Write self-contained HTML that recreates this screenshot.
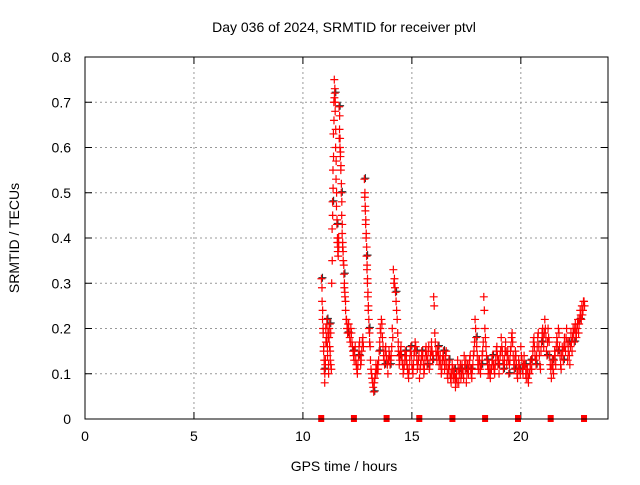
<!DOCTYPE html>
<html><head><meta charset="utf-8">
<style>
body{margin:0;background:#fff;font-family:"Liberation Sans",sans-serif;}
svg text{font-family:"Liberation Sans",sans-serif;font-size:14px;fill:#000;}
</style></head>
<body>
<svg id="chart" width="640" height="480" viewBox="0 0 640 480" xmlns="http://www.w3.org/2000/svg">
<rect width="640" height="480" fill="#fff"/>
<text x="344" y="32" text-anchor="middle">Day 036 of 2024, SRMTID for receiver ptvl</text>
<text x="344" y="471" text-anchor="middle">GPS time / hours</text>
<text transform="translate(19,238) rotate(-90)" text-anchor="middle">SRMTID / TECUs</text>
<g id="grid"></g><g id="ticks"></g><g id="marks"></g>
<rect x="85" y="57" width="523" height="362" fill="none" stroke="#000" stroke-width="1"/>
</svg>
<script>
const xTicks=[0,5,10,15,20];
const yTicks=[0,0.1,0.2,0.3,0.4,0.5,0.6,0.7,0.8];
const yTickLabels=["0","0.1","0.2","0.3","0.4","0.5","0.6","0.7","0.8"];
const gapMarkers=[10.84,12.34,13.84,15.34,16.86,18.36,19.87,21.37,22.9];
const times=[10.85,10.88,10.9,10.93,10.95,10.98,11.0,11.03,11.05,11.08,11.1,11.13,11.15,11.18,11.2,11.23,11.25,11.28,
11.32,11.34,11.36,11.38,11.4,11.42,11.44,11.46,11.48,11.5,11.52,11.54,11.56,11.58,11.6,
11.62,11.64,11.66,11.68,11.7,11.72,11.74,11.76,11.78,11.8,11.82,11.85,11.88,11.9,11.93,11.96,
12.0,12.05,12.1,12.15,12.2,12.25,12.3,12.35,12.4,12.45,12.5,12.55,12.6,12.65,12.7,12.75,
12.82,12.84,12.86,12.88,12.9,12.92,12.94,12.96,12.98,13.0,13.03,13.06,
13.1,13.15,13.2,13.25,13.3,13.35,13.4,13.45,13.5,13.55,13.6,13.65,13.7,13.75,13.8,13.85,13.9,13.95,
14.0,14.05,14.1,14.15,14.2,14.25,14.3,14.35,14.38,14.42,14.45,14.5,14.55,14.6,14.65,14.7,14.75,14.8,14.85,14.9,14.95,
15.0,15.05,15.1,15.15,15.2,15.25,15.3,15.35,15.4,15.45,15.5,15.55,15.6,15.65,15.7,15.75,15.8,15.85,15.9,15.95,
16.0,16.05,16.1,16.15,16.2,16.25,16.3,16.35,16.4,16.45,16.5,16.55,16.6,16.65,16.7,16.75,16.8,16.85,16.9,16.95,
17.0,17.05,17.1,17.15,17.2,17.25,17.3,17.35,17.4,17.45,17.5,17.55,17.6,17.65,17.7,17.75,17.8,17.85,17.9,17.95,
18.0,18.05,18.1,18.15,18.2,18.25,18.3,18.35,18.4,18.45,18.5,18.55,18.6,18.65,18.7,18.75,18.8,18.85,18.9,18.95,
19.0,19.05,19.1,19.15,19.2,19.25,19.3,19.35,19.4,19.45,19.5,19.55,19.6,19.65,19.7,19.75,19.8,19.85,19.9,19.95,
20.0,20.05,20.1,20.15,20.2,20.25,20.3,20.35,20.4,20.45,20.5,20.55,20.6,20.65,20.7,20.75,20.8,20.85,20.9,20.95,
21.0,21.05,21.1,21.15,21.2,21.25,21.3,21.35,21.4,21.45,21.5,21.55,21.6,21.65,21.7,21.75,21.8,21.85,21.9,21.95,
22.0,22.05,22.1,22.15,22.2,22.25,22.3,22.35,22.4,22.45,22.5,22.55,22.6,22.65,22.7,22.75,22.8,22.85,22.9];
const values=[0.31,0.26,0.22,0.19,0.15,0.11,0.08,0.13,0.2,0.17,0.22,0.14,0.19,0.1,0.18,0.21,0.15,0.12,
0.3,0.42,0.48,0.55,0.63,0.7,0.75,0.72,0.68,0.6,0.53,0.47,0.43,0.39,0.37,
0.36,0.4,0.69,0.64,0.6,0.58,0.55,0.5,0.45,0.41,0.38,0.35,0.32,0.29,0.27,0.24,
0.22,0.19,0.21,0.18,0.2,0.17,0.15,0.13,0.16,0.12,0.1,0.14,0.17,0.12,0.15,0.18,
0.53,0.49,0.47,0.43,0.4,0.36,0.33,0.3,0.27,0.24,0.2,0.17,
0.13,0.1,0.08,0.06,0.09,0.12,0.1,0.11,0.15,0.2,0.22,0.18,0.14,0.12,0.16,0.13,0.1,0.15,
0.12,0.14,0.2,0.33,0.31,0.28,0.24,0.19,0.15,0.12,0.14,0.16,0.13,0.1,0.12,0.15,0.14,0.11,0.09,0.13,0.16,
0.12,0.1,0.14,0.17,0.15,0.11,0.13,0.09,0.12,0.15,0.14,0.1,0.13,0.16,0.12,0.15,0.11,0.14,0.17,0.13,
0.27,0.19,0.15,0.13,0.16,0.12,0.14,0.1,0.13,0.15,0.11,0.14,0.12,0.09,0.13,0.1,0.08,0.12,0.09,0.11,
0.07,0.1,0.13,0.08,0.11,0.09,0.12,0.1,0.14,0.11,0.08,0.12,0.1,0.13,0.11,0.09,0.12,0.15,0.22,0.18,
0.14,0.11,0.13,0.1,0.12,0.15,0.27,0.2,0.16,0.13,0.1,0.12,0.09,0.11,0.14,0.12,0.1,0.13,0.16,0.12,
0.1,0.14,0.18,0.15,0.11,0.13,0.17,0.12,0.15,0.1,0.13,0.16,0.19,0.14,0.11,0.15,0.12,0.09,0.13,0.11,
0.16,0.13,0.1,0.14,0.12,0.09,0.11,0.08,0.1,0.13,0.11,0.15,0.18,0.14,0.12,0.16,0.19,0.14,0.11,0.17,
0.2,0.16,0.22,0.18,0.14,0.2,0.17,0.12,0.09,0.13,0.1,0.15,0.12,0.18,0.15,0.19,0.14,0.11,0.16,0.13,
0.18,0.15,0.2,0.13,0.17,0.12,0.19,0.15,0.2,0.17,0.21,0.18,0.21,0.19,0.22,0.23,0.25,0.24,0.26];
const values2=[0.29,0.24,0.2,0.16,0.13,0.1,0.12,0.17,0.18,0.21,0.16,0.18,0.12,0.2,0.16,0.13,0.19,0.11,
0.35,0.45,0.51,0.58,0.66,0.71,0.73,0.7,0.64,0.57,0.5,0.44,0.4,0.38,0.39,
0.38,0.62,0.67,0.62,0.59,0.56,0.52,0.48,0.43,0.39,0.37,0.34,0.3,0.28,0.26,0.22,
0.2,0.21,0.19,0.17,0.19,0.16,0.14,0.15,0.13,0.11,0.12,0.16,0.14,0.13,0.17,0.16,
0.5,0.46,0.44,0.41,0.38,0.34,0.31,0.28,0.25,0.22,0.19,0.16,
0.11,0.09,0.07,0.08,0.1,0.11,0.12,0.13,0.17,0.19,0.21,0.16,0.13,0.15,0.14,0.12,0.13,0.14,
0.13,0.16,0.18,0.3,0.29,0.26,0.22,0.17,0.14,0.13,0.15,0.14,0.12,0.11,0.14,0.13,0.12,0.1,0.11,0.15,0.14,
0.11,0.12,0.15,0.16,0.13,0.12,0.14,0.11,0.13,0.14,0.12,0.11,0.15,0.14,0.13,0.16,0.12,0.15,0.15,0.14,
0.25,0.17,0.14,0.15,0.14,0.13,0.12,0.11,0.14,0.13,0.12,0.15,0.1,0.11,0.12,0.09,0.1,0.11,0.1,0.09,
0.09,0.08,0.11,0.1,0.12,0.1,0.11,0.09,0.12,0.13,0.1,0.11,0.12,0.14,0.1,0.11,0.14,0.17,0.2,0.16,
0.12,0.13,0.11,0.12,0.14,0.17,0.24,0.18,0.14,0.12,0.11,0.1,0.11,0.13,0.12,0.11,0.12,0.15,0.14,0.13,
0.12,0.15,0.16,0.13,0.12,0.15,0.15,0.14,0.13,0.12,0.15,0.18,0.17,0.12,0.13,0.14,0.1,0.11,0.12,0.1,
0.14,0.11,0.12,0.12,0.1,0.11,0.09,0.1,0.12,0.11,0.13,0.17,0.16,0.13,0.14,0.18,0.16,0.12,0.15,0.19,
0.18,0.19,0.2,0.15,0.17,0.18,0.14,0.11,0.12,0.11,0.13,0.14,0.16,0.17,0.2,0.16,0.12,0.14,0.15,0.16,
0.16,0.18,0.17,0.15,0.14,0.16,0.17,0.18,0.19,0.2,0.19,0.2,0.22,0.21,0.24,0.22,0.23,0.26,0.25];
const X=h=>85+h*523/24;
const Y=v=>419-v*362/0.8;
const ns="http://www.w3.org/2000/svg";
const grid=document.getElementById('grid'),ticks=document.getElementById('ticks'),marks=document.getElementById('marks');
function mk(tag,attrs,parent){const e=document.createElementNS(ns,tag);for(const k in attrs)e.setAttribute(k,attrs[k]);parent.appendChild(e);return e;}
xTicks.forEach(t=>{
  const x=X(t);
  if(t>0){const g=mk('line',{x1:x,x2:x,y1:57,y2:419,stroke:'#999','stroke-dasharray':'2,3'},grid);
  
  }
  mk('line',{x1:x,x2:x,y1:419,y2:412,stroke:'#000'},ticks);
  mk('line',{x1:x,x2:x,y1:57,y2:64,stroke:'#000'},ticks);
  const l=mk('text',{x:x,y:441,'text-anchor':'middle'},ticks);l.textContent=t;
  
  
});
yTicks.forEach((t,i)=>{
  const y=Y(t);
  if(t>0&&t<0.8){const g=mk('line',{x1:85,x2:608,y1:y,y2:y,stroke:'#999','stroke-dasharray':'2,3'},grid);
  
  }
  mk('line',{x1:85,x2:92,y1:y,y2:y,stroke:'#000'},ticks);
  mk('line',{x1:608,x2:601,y1:y,y2:y,stroke:'#000'},ticks);
  const l=mk('text',{x:71,y:y+5,'text-anchor':'end'},ticks);l.textContent=yTickLabels[i];
  
  
});
function cross(x,y,col,nm){
  const p=mk('path',{d:`M${x-4},${y}H${x+4}M${x},${y-4}V${y+4}`,stroke:col,'stroke-width':1.2,fill:'none'},marks);
  
  
}
times.forEach((t,i)=>{ if(i%5===0) cross(X(t)+1,Y(values[i])-1,'#333','srmtid-point-black'); });
times.forEach((t,i)=>{ cross(X(t+0.025),Y(values2[i]),'#f00','srmtid-point-b'); });
times.forEach((t,i)=>{ cross(X(t),Y(values[i]),'#f00','srmtid-point'); });
gapMarkers.forEach(t=>{
  const r=mk('rect',{x:X(t)-3,y:415,width:6,height:7,fill:'#f00'},marks);
  
  
});
</script>
</body></html>
